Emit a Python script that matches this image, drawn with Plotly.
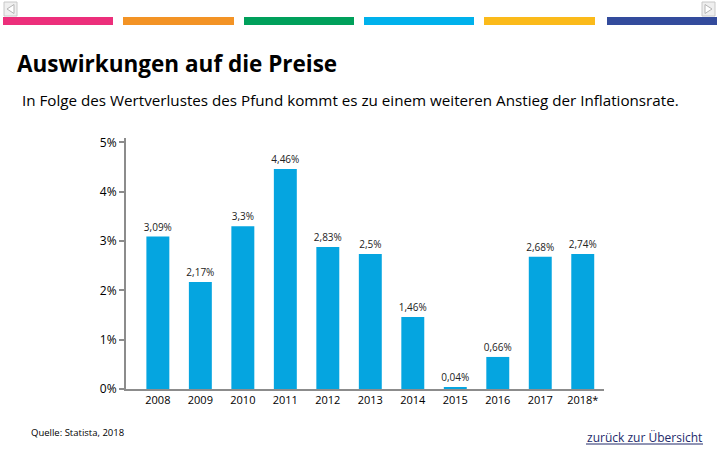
import plotly.graph_objects as go

# ---- data ----
years = ["2008", "2009", "2010", "2011", "2012", "2013", "2014", "2015", "2016", "2017", "2018*"]
bar_values = [3.09, 2.17, 3.30, 4.46, 2.88, 2.74, 1.46, 0.04, 0.65, 2.68, 2.74]
value_labels = ["3,09%", "2,17%", "3,3%", "4,46%", "2,83%", "2,5%", "1,46%", "0,04%", "0,66%", "2,68%", "2,74%"]
y_tick_vals = [0, 1, 2, 3, 4, 5]
y_tick_text = ["0%", "1%", "2%", "3%", "4%", "5%"]

title_text = "Auswirkungen auf die Preise"
subtitle_text = "In Folge des Wertverlustes des Pfund kommt es zu einem weiteren Anstieg der Inflationsrate."
source_text = "Quelle: Statista, 2018"
link_text = "zurück zur Übersicht"

stripe_colors = ["#EC2F7B", "#F39325", "#00A05B", "#00B1EC", "#FBBA1A", "#334B9C"]

# ---- layout geometry (pixels) ----
WIDTH, HEIGHT = 720, 450
L, R, T, B = 126, 116, 138, 61
PW = WIDTH - L - R
PH = HEIGHT - T - B


def px(x):
    return (x - L) / PW


def py(y):
    return (HEIGHT - B - y) / PH


FONT = "Open Sans, Noto Sans, DejaVu Sans, sans-serif"
BAR_COLOR = "#05A5E0"
AXIS_COLOR = "#8C8C8C"
LINK_COLOR = "#232A6B"

fig = go.Figure(
    go.Bar(
        x=years,
        y=bar_values,
        text=value_labels,
        textposition="outside",
        constraintext="none",
        cliponaxis=False,
        textfont=dict(family=FONT, size=10, color="#222222"),
        marker=dict(color=BAR_COLOR, line=dict(width=0)),
        width=0.54,
        hoverinfo="x+y",
    )
)

shapes = []
# top coloured stripes
stripe_x = [(3, 113), (123, 234), (244, 354), (364, 474), (484, 595), (607, 717)]
for (x0, x1), c in zip(stripe_x, stripe_colors):
    shapes.append(dict(type="rect", xref="paper", yref="paper",
                       x0=px(x0), x1=px(x1), y0=py(25), y1=py(17),
                       fillcolor=c, line=dict(width=0), layer="above"))

# navigation icons (top-left and top-right)
for (x0, x1, left) in [(4, 17, True), (702, 715, False)]:
    shapes.append(dict(type="rect", xref="paper", yref="paper",
                       x0=px(x0), x1=px(x1), y0=py(16), y1=py(2),
                       fillcolor="#EFEFEF", line=dict(color="#C8C8C8", width=1)))
    if left:
        path = f"M {px(x1-3)},{py(4.5)} L {px(x0+3)},{py(9)} L {px(x1-3)},{py(13.5)} Z"
    else:
        path = f"M {px(x0+3)},{py(4.5)} L {px(x1-3)},{py(9)} L {px(x0+3)},{py(13.5)} Z"
    shapes.append(dict(type="path", xref="paper", yref="paper", path=path,
                       fillcolor="#FFFFFF", line=dict(color="#B5B5B5", width=1)))

# underline of the link text
shapes.append(dict(type="line", xref="paper", yref="paper",
                   x0=px(586), x1=px(703), y0=py(444), y1=py(444),
                   line=dict(color=LINK_COLOR, width=1)))

annotations = [
    dict(text=f"<b>{title_text}</b>", xref="paper", yref="paper",
         x=px(15), y=py(63), xanchor="left", yanchor="middle", showarrow=False,
         font=dict(family=FONT, size=22.5, color="#000000")),
    dict(text=subtitle_text, xref="paper", yref="paper",
         x=px(20), y=py(100), xanchor="left", yanchor="middle", showarrow=False,
         font=dict(family=FONT, size=15.2, color="#000000")),
    dict(text=source_text, xref="paper", yref="paper",
         x=px(29), y=py(432), xanchor="left", yanchor="middle", showarrow=False,
         font=dict(family=FONT, size=9.5, color="#000000")),
    dict(text=link_text, xref="paper", yref="paper",
         x=px(704), y=py(437), xanchor="right", yanchor="middle", showarrow=False,
         font=dict(family=FONT, size=12, color=LINK_COLOR)),
]

fig.update_layout(
    width=WIDTH, height=HEIGHT,
    margin=dict(l=L, r=R, t=T, b=B, pad=0),
    paper_bgcolor="#FFFFFF", plot_bgcolor="#FFFFFF",
    showlegend=False,
    bargap=0.46,
    shapes=shapes,
    annotations=annotations,
    font=dict(family=FONT, color="#000000"),
)

fig.update_xaxes(
    type="category",
    range=[-0.75, 10.5],
    showline=True, linecolor=AXIS_COLOR, linewidth=2,
    showgrid=False, zeroline=False,
    ticks="", tickfont=dict(family=FONT, size=11, color="#000000"),
)
fig.update_yaxes(
    range=[0, 5.09],
    tickvals=y_tick_vals, ticktext=y_tick_text,
    showline=True, linecolor=AXIS_COLOR, linewidth=2,
    showgrid=False, zeroline=False,
    ticks="outside", ticklen=5, tickwidth=1.5, tickcolor=AXIS_COLOR,
    tickfont=dict(family=FONT, size=12, color="#000000"),
)

fig.write_html(
    "out.html",
    config={"displayModeBar": False},
    post_script="document.body.style.margin='0';document.body.style.padding='0';",
)
